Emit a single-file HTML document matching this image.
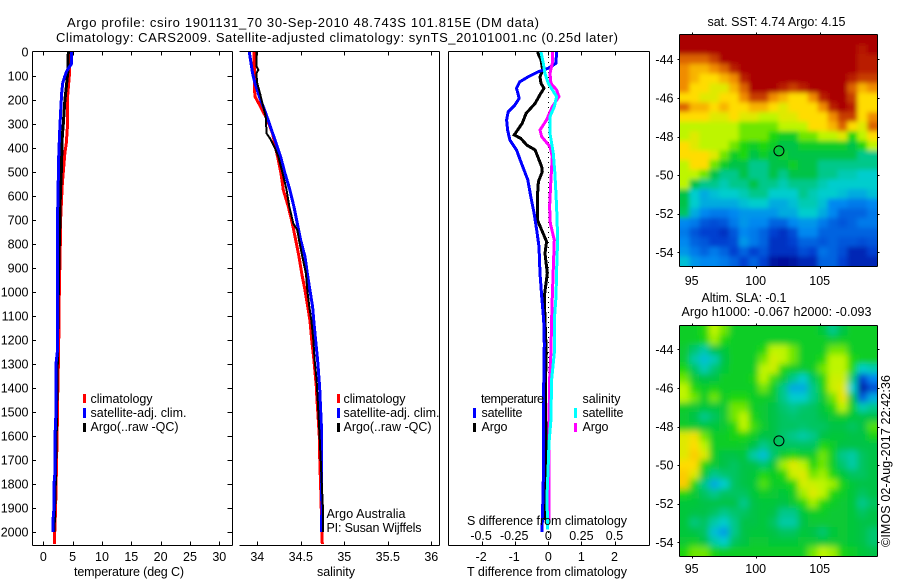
<!DOCTYPE html>
<html lang="en">
<head>
<meta charset="utf-8">
<title>Argo profile csiro 1901131_70</title>
<style>
html,body{margin:0;padding:0;background:#fff;width:900px;height:580px;overflow:hidden}
svg{display:block}
text{font-family:"Liberation Sans",sans-serif;font-size:12.5px;fill:#000;letter-spacing:0}
.ttl{font-size:13px}
.ax{stroke:#000;stroke-width:1;fill:none;shape-rendering:crispEdges}
.ln{fill:none;shape-rendering:crispEdges;stroke-linejoin:miter}
</style>
</head>
<body>
<svg id="chart" xmlns="http://www.w3.org/2000/svg" width="900" height="580" viewBox="0 0 900 580">
  <defs>
    <clipPath id="clip-sst"><rect x="680" y="35" width="197" height="231"/></clipPath>
    <clipPath id="clip-sla"><rect x="680" y="326" width="197" height="230"/></clipPath>
    <clipPath id="clip-p1"><rect x="33" y="52" width="199" height="493"/></clipPath>
    <clipPath id="clip-p2"><rect x="239" y="52" width="200" height="493"/></clipPath>
    <clipPath id="clip-p3"><rect x="449" y="52" width="200" height="493"/></clipPath>
    <filter id="blur-sst" filterUnits="userSpaceOnUse" x="640" y="0" width="260" height="300"><feGaussianBlur stdDeviation="2.4"/></filter>
    <filter id="blur-sla" filterUnits="userSpaceOnUse" x="640" y="290" width="260" height="290"><feGaussianBlur stdDeviation="3.2"/></filter>
  </defs>

  <text class="ttl" x="67" y="27" textLength="472" lengthAdjust="spacing">Argo profile: csiro 1901131_70 30-Sep-2010 48.743S 101.815E (DM data)</text>
  <text class="ttl" x="56" y="42" textLength="562" lengthAdjust="spacing">Climatology: CARS2009. Satellite-adjusted climatology: synTS_20101001.nc (0.25d later)</text>

  <g id="heat-sst" clip-path="url(#clip-sst)"><g id="heat-sst-cells" filter="url(#blur-sst)"></g></g>
  <g id="heat-sla" clip-path="url(#clip-sla)"><g id="heat-sla-cells" filter="url(#blur-sla)"></g></g>

  <g id="lines-p1" clip-path="url(#clip-p1)"></g>
  <g id="lines-p2" clip-path="url(#clip-p2)"></g>
  <g id="lines-p3" clip-path="url(#clip-p3)"></g>
  <g id="axes"></g>

  <text x="74" y="576" textLength="110" lengthAdjust="spacing">temperature (deg C)</text>
  <text x="317" y="576" textLength="38" lengthAdjust="spacing">salinity</text>
  <text x="467" y="576" textLength="160" lengthAdjust="spacing">T difference from climatology</text>
  <text x="467" y="525" textLength="160" lengthAdjust="spacing">S difference from climatology</text>

  <g>
    <rect x="83" y="394" width="3" height="9" fill="#f00"/>
    <rect x="83" y="408" width="3" height="10" fill="#00f"/>
    <rect x="83" y="423" width="3" height="9" fill="#000"/>
    <text x="90.5" y="403" textLength="62" lengthAdjust="spacing">climatology</text>
    <text x="90.5" y="417" textLength="96" lengthAdjust="spacing">satellite-adj. clim.</text>
    <text x="90.5" y="431" textLength="88" lengthAdjust="spacing">Argo(..raw -QC)</text>
  </g>
  <g>
    <rect x="337" y="394" width="3" height="9" fill="#f00"/>
    <rect x="337" y="408" width="3" height="10" fill="#00f"/>
    <rect x="337" y="423" width="3" height="9" fill="#000"/>
    <text x="343.5" y="403" textLength="62" lengthAdjust="spacing">climatology</text>
    <text x="343.5" y="417" textLength="96" lengthAdjust="spacing">satellite-adj. clim.</text>
    <text x="343.5" y="431" textLength="88" lengthAdjust="spacing">Argo(..raw -QC)</text>
  </g>
  <text x="326.5" y="518" textLength="79" lengthAdjust="spacing">Argo Australia</text>
  <text x="326.5" y="532" textLength="95" lengthAdjust="spacing">PI: Susan Wijffels</text>

  <g>
    <text x="481" y="403" textLength="63" lengthAdjust="spacing">temperature</text>
    <text x="481.5" y="417" textLength="41" lengthAdjust="spacing">satellite</text>
    <text x="481.5" y="431" textLength="26" lengthAdjust="spacing">Argo</text>
    <rect x="473" y="408" width="3" height="10" fill="#00f"/>
    <rect x="473" y="423" width="3" height="9" fill="#000"/>
    <text x="582.5" y="403" textLength="38" lengthAdjust="spacing">salinity</text>
    <text x="582.5" y="417" textLength="41" lengthAdjust="spacing">satellite</text>
    <text x="582.5" y="431" textLength="26" lengthAdjust="spacing">Argo</text>
    <rect x="574" y="408" width="3" height="10" fill="#0ff"/>
    <rect x="574" y="423" width="3" height="9" fill="#f0f"/>
  </g>

  <text x="707.5" y="26" textLength="138" lengthAdjust="spacing">sat. SST: 4.74 Argo: 4.15</text>
  <text x="701.5" y="302" textLength="85" lengthAdjust="spacing">Altim. SLA: -0.1</text>
  <text x="681.5" y="316" textLength="190" lengthAdjust="spacing">Argo h1000: -0.067 h2000: -0.093</text>
  <text transform="translate(890,547) rotate(-90)" textLength="172" lengthAdjust="spacing">©IMOS 02-Aug-2017 22:42:36</text>
</svg>

<script>
// ---- depth axis ----
const depthTicks = [0,100,200,300,400,500,600,700,800,900,1000,1100,1200,1300,1400,1500,1600,1700,1800,1900,2000];

// ---- temperature panel (deg C) ----
const tempTicks = [0,5,10,15,20,25,30];
const climTempDepth = [0,50,100,150,200,300,380,420,500,550,600,700,800,1000,1250,1450,1550,1700,1900,2050];
const climTemp = [4.43,4.49,4.43,4.26,4.09,4.15,3.92,3.69,3.41,3.24,3.13,2.95,2.90,2.73,2.61,2.44,2.38,2.27,2.10,1.88];
const argoTempDepth = [0,80,130,200,300,350,500,600,700,800,1000,1200,1500,1800,2000];
const argoTemp = [4.26,4.20,3.98,3.69,3.41,3.24,3.07,2.90,2.84,2.73,2.56,2.44,2.27,2.05,1.82];
const satTempDepth = [0,50,80,100,130,170,250,340,450,600,730,1000,1250,1300,1500,1600,1750,1800,1900,1950,2000];
const satTemp = [4.83,4.77,3.98,3.69,3.30,3.13,2.95,2.78,2.61,2.50,2.39,2.39,2.39,2.16,2.16,1.99,1.99,1.82,1.82,1.65,1.65];

// ---- salinity panel ----
const salTicks = [34,34.5,35,35.5,36];
const salTickLabels = ['34','34.5','35','35.5','36'];
const climSalDepth = [0,61,144,186,228,283,339,394,450,506,575,644,714,783,853,922,992,1061,1117,1200,1283,1394,1450,1533,1600,1725,1800,2000,2050];
const climSal = [33.962,33.966,33.966,33.973,34.038,34.115,34.176,34.207,34.241,34.272,34.299,34.356,34.402,34.441,34.479,34.510,34.548,34.579,34.605,34.625,34.651,34.678,34.686,34.701,34.713,34.720,34.728,34.743,34.747];
const argoSalDepth = [0,61,75,89,131,172,228,269,339,360,394,436,506,575,644,714,742,783,853,922,992,1061,1117,1200,1283,1367,1464,1600,1908,2000];
const argoSal = [33.989,33.992,34.011,33.989,34.0,34.031,34.069,34.096,34.107,34.146,34.195,34.241,34.291,34.337,34.368,34.414,34.460,34.479,34.517,34.559,34.575,34.598,34.621,34.644,34.659,34.682,34.697,34.716,34.755,34.755];
const satSalDepth = [0,89,131,186,242,297,367,436,506,575,644,714,783,853,922,992,1061,1117,1200,1283,1394,1553,1750,1908,2000];
const satSal = [33.908,33.946,33.973,34.023,34.084,34.138,34.203,34.268,34.318,34.375,34.421,34.460,34.498,34.548,34.575,34.605,34.636,34.648,34.670,34.693,34.716,34.736,34.736,34.743,34.736];

// ---- difference panel ----
const diffTTicks = [-2,-1,0,1,2];
const diffSTicks = [-0.5,-0.25,0,0.25,0.5];
const diffSTickLabels = ['-0.5','-0.25','0','0.25','0.5'];
const satDiffTDepth = [0,47,68,82,103,124,151,193,221,249,283,325,367,408,464,533,603,672,742,811,922,1019,1117,1217,1394,1616,1783,1894,2000];
const satDiffT = [0.25,0.23,0,-0.30,-0.60,-0.86,-0.96,-0.88,-1.01,-1.21,-1.26,-1.23,-1.16,-0.96,-0.81,-0.62,-0.53,-0.43,-0.35,-0.28,-0.25,-0.20,-0.14,-0.12,-0.14,-0.14,-0.15,-0.17,-0.19];
const argoDiffTDepth = [0,33,75,103,131,151,178,214,256,297,346,360,388,408,478,499,540,603,700,742,790,839,922,1019,1117,1255,1394,1616,1783,1950];
const argoDiffT = [-0.33,-0.22,-0.17,-0.25,-0.22,-0.13,-0.25,-0.40,-0.67,-0.79,-1.03,-0.83,-0.65,-0.40,-0.20,-0.18,-0.30,-0.33,-0.33,-0.20,-0.05,-0.10,-0.03,-0.12,-0.10,-0.06,-0.09,-0.07,-0.07,-0.11];
const satDiffSDepth = [0,47,89,131,186,228,269,339,422,506,644,783,867,1019,1117,1255,1366,1533,1630,1714,1852,1990];
const satDiffS = [-0.055,-0.038,-0.025,0,0.063,0.045,0.013,0.013,0.038,0.050,0.063,0.071,0.065,0.058,0.045,0.045,0.025,0.020,0.005,0,-0.010,-0.005];
const argoDiffSDepth = [0,47,89,131,158,186,228,283,325,353,394,436,533,644,714,783,867,1019,1117,1255,1366,1533,1852,1950];
const argoDiffS = [0.030,0.030,0.013,0.020,0.063,0.081,0.030,-0.013,-0.063,-0.050,0.013,0.030,0.020,0.010,0.015,0.045,0.040,0.030,0.025,0.020,0.010,0.005,0.005,0.005];

// ---- map panels ----
const lonTicks = [95,100,105];
const latTicks = [-44,-46,-48,-50,-52,-54];
const profileLon = 101.815;
const profileLat = -48.743;

// colour level per coarse map cell (0 = deep blue ... 10 = dark red)
const sstGrid = [
[10,10,10,10,10,10,10,10,10,10,10,10,10,10,10,10,10,10,10,10],
[10,10,10,10,10,10,10,10,10,10,10,10,10,10,10,10,10,10,9.6,10],
[8.5,8.5,8.5,9,10,10,10,10,10,10,10,10,10,10,10,10,10,10,9.5,9.5],
[8,7.5,7.5,8,8.5,9.5,10,10,10,10,10,10,10,10,10,10,10,10,9.5,9.5],
[8,7.5,7,7,7.5,8,9.5,10,10,10,10,10,10,10,10,10,10,9.5,9,9],
[8,7,7,6.5,6.5,7.5,8.5,10,10,10,9.5,9,9.5,10,10,10,10,8.5,7.5,8],
[7,7,6.5,6.5,7,7,8,9,9,8,7.5,7,7,8,9.5,10,10,9,7,7],
[8.5,7.5,7.5,7,7.5,7,7,7.5,7.5,7,6.5,7,7,7,8,9.5,10,9.5,7,7],
[7,7,7,6.5,6.5,7,6.5,6.5,6,6,6.5,6.5,7,7,7,8,9,9,7,8],
[6,6,6,6,6,6,5.5,5.5,5.5,5.5,6,6,6,7,7,7.5,8.5,7,6.5,8.5],
[6,6.5,6,6,6,6,5.5,5.5,5.5,5,4.5,4.5,5.5,5.5,6,6,6.5,5,6,7],
[7,6.5,6,6,6,5.5,5,4.5,5,4.5,4,4,4.5,4.5,4.5,4.5,4.5,4,5,6],
[7,7,7,6.5,5.5,4.5,5,4,4.5,4,4.3,4,4,4,4,4,4,4,3.5,3.5],
[6,7,7,5.5,4.5,4,4,3.5,3.5,4,4,4.5,4,4,3.5,3.5,3.5,3.5,3.5,3.5],
[6,6,5.5,4,3.5,3.5,4,3.5,3.5,4,3.5,4,4,4,3.5,3.5,3.2,3.2,3,3],
[6,4,3.5,3.5,3.2,3.5,3.5,4,3.5,3.5,3.2,3.5,3.5,3.5,3.2,3,3,3,3,3],
[4,3,2.5,2.8,3,3,3.2,3.5,3.5,3,3,3,3.5,3.2,3,3,2.8,2.5,2.5,2.8],
[4,3,2.5,2.5,2.5,2.5,2.8,3,3,2.5,2.5,2.8,3.2,3.2,2.8,2,2,1.8,1.8,2],
[3.8,2.5,2,1.8,1.8,2,2.2,2.2,2.2,2.2,2.5,2.5,3,3,2.5,2,1.5,1.5,1.5,1.8],
[2,1.8,1.3,1.2,1.3,1.8,2.2,2,2,1.5,1.5,2,2.2,2.2,1.8,1.5,1.3,1.5,1.8,1.8],
[1.8,1.3,1,1,0.8,1.3,2,1.8,1.5,1,0.8,1.2,2,2,1.5,1.5,1.5,1.5,1.5,1.5],
[2,1.5,1.3,1,1,1.2,2.2,1.8,1.5,0.8,0.8,1,1.5,1.5,1.3,1.5,1.3,1.3,1.2,1.3],
[2.2,1.8,1.5,1.8,1.5,1,1.5,1,1.3,0.8,0.8,0.8,1.2,1,1.7,1.5,1.2,0.6,0.6,1],
[2.8,2.2,2,2,1.8,1.5,1,1.5,1,0.3,0.2,0.3,0.6,0.6,1.5,1.5,1,0.6,0.6,0.6]
];
const slaGrid = [
[4.5,4.5,5,6,5.5,4.5,4.5,4.5,4.5,4.5,4.5,4.5,4.5,4.5,4.2,3.5,4,4.5,4.5,4.5],
[4.5,4.5,4.8,5.8,5,4.5,4.5,4.5,4.5,4.5,4.5,4.5,4.5,4.5,4.5,4.3,4.5,4.5,4.5,4.5],
[4.3,3.7,3.3,4,4.2,4.5,4.5,4.5,5,6,6,5.5,4.5,4.5,4.5,5.5,5.5,4.5,4.5,4.5],
[4.3,3.3,2.8,3.2,4,4.5,4.5,4.5,5.5,6.3,6,5.5,4.5,4.5,5,6,6,5,4.5,4.5],
[5,3.8,3.2,3.7,4.2,4.5,4.5,4.5,6,6.2,5,4.5,4.3,4.5,5.5,6,6,5,3,3.2],
[5.5,4.3,4,4,4.5,4.5,4.5,4.8,6,5.2,4.3,3.5,3,3.8,5,6.2,6.2,3.6,1,2],
[6,5,4.5,4.8,4.5,4.5,4.5,4.5,5.5,4.5,3.5,2.5,2.5,3.5,4.8,6.2,6.5,3,0.4,1.2],
[6,5.5,4.5,5.5,4.5,5,5,4.5,4.5,4.3,3.5,3,3,3.5,4.3,5.5,6.7,4,1.4,2.5],
[4.5,4.3,4.2,4.2,4.3,5.5,5.5,4.5,4.3,4,3.7,3.5,3.7,3.8,4.2,5,6,4.5,3.2,3.5],
[4.3,4,3.5,3.8,4.3,5.5,6,4.8,4.3,4,3.8,3.7,3.8,3.8,4,4.3,4.5,4.2,4,4],
[4.5,4.3,4.2,4.2,4.3,5,6,5.2,4.4,4,3.8,3.8,3.7,3.8,3.8,4,4,3.8,4,5.3],
[6.5,6.8,5.5,4.5,4.5,4.8,5,4.5,4,4,3.7,3.5,3.3,3.5,4,4.2,4.2,4,4,4.8],
[6.5,7,6,4.5,4.5,4.5,4.4,4,3.5,3.8,3.8,3.8,3.8,3.8,5,4.5,4,4,4,4],
[6.5,7.2,6.5,4.5,4,4,4.2,3.3,2.8,3.7,4.5,5,4.5,4.5,5.5,4.5,3.5,3.3,3.8,4],
[7,7,5,4.3,4,3.8,4,4,3.7,4.2,5.8,6.5,6,5,5.5,4.5,3.7,3.3,3.8,4],
[7.2,6.5,4.3,3.5,3.7,3.8,4,4.2,5,4.5,5,6.2,6.5,5.5,5.8,5,4.2,3.8,3.8,4],
[7.2,5,3.5,2.5,3,3.8,4,4.2,5.3,4.5,4.5,5,6.3,6.2,6,5.8,4.8,4.2,4,4],
[5,4.3,3.8,3.5,3.8,3.8,3.8,4.2,4.5,4.3,4.2,4.5,5.8,6.5,6,5,4.5,4.2,3.8,4],
[4.2,4.2,4,4,4,4,3.5,4,4.2,4.2,4,4.3,5,5.8,5,4.5,4.3,4.2,3.5,3.8],
[4.2,4,4,3.8,3.5,3.7,3.8,4,4.2,4,3.5,3.5,4.2,4.5,4.5,4.3,4.3,4.2,3.8,4],
[4.2,3.6,3.8,3.3,3,3.5,4,4,4.2,3.8,3.3,3.3,4,4.3,4.3,4.3,4.3,4.2,4,4],
[4.2,4,3.8,2.8,2.3,3.5,4,4.2,4.2,4,3.8,3.8,4.2,4,3.7,4.2,4.3,4.2,4,3.7],
[4.3,4.5,4,3.3,3,3.8,4,4.3,4.3,4.2,4.2,4.2,4.3,4.3,4.2,4.3,4.3,4.2,4,3.7],
[5,5.5,5.5,4.8,4.5,4.5,4.5,4.5,4.5,4.5,4.5,4.5,4.5,5.5,6,5.8,4.8,4.5,4.2,4]
];

const SVGNS = 'http://www.w3.org/2000/svg';
const axesLayer = document.getElementById('axes');

function yDepth(d){ return 52 + 0.24 * d; }
function xTemp(v){ return 43.3 + 5.867 * v; }
function xSal(v){ return 257.3 + 87 * (v - 34); }
function xDiffT(v){ return 548.3 + 33.1 * v; }
function xDiffS(v){ return xDiffT(v * 4); }
function xLon(v){ return 691.7 + 12.8 * (v - 95); }
function yLatSst(v){ return 59.3 + 19.3 * (-44 - v); }
function yLatSla(v){ return 349.3 + 19.3 * (-44 - v); }

function make(tag, attrs, parent){
  const el = document.createElementNS(SVGNS, tag);
  for (const k in attrs) el.setAttribute(k, attrs[k]);
  parent.appendChild(el);
  return el;
}
function seg(x1,y1,x2,y2,name){
  const el = make('line',{x1:x1,y1:y1,x2:x2,y2:y2,'class':'ax'},axesLayer);
  
  
  return el;
}
function label(str,x,y,anchor,name){
  const el = make('text',{x:x,y:y,'text-anchor':anchor},axesLayer);
  el.textContent = str;
  
  
  return el;
}
function profile(layerId, xFn, depths, values, color, width, name){
  const pts = depths.map(function(d,i){ return xFn(values[i]).toFixed(1) + ',' + yDepth(d).toFixed(1); }).join(' ');
  const el = make('polyline',{points:pts,stroke:color,'stroke-width':width,'class':'ln'},document.getElementById(layerId));
  
  
}
function box(l,t,r,b,drawLeft,name){
  seg(l,t,r,t,name+'-top-edge');
  seg(l,b,r,b,name+'-bottom-edge');
  seg(r,t,r,b,name+'-right-edge');
  if (drawLeft) seg(l,t,l,b,name+'-left-edge');
}

// panel frames
box(32.5,51.5,232.5,545.5,true,'temperature-panel');
box(239.5,51.5,439.5,545.5,false,'salinity-panel');
box(448.5,51.5,649.5,545.5,true,'difference-panel');

// depth ticks
depthTicks.forEach(function(d){
  const y = Math.round(yDepth(d)) + 0.5;
  label(String(d), 28.5, yDepth(d) + 4.5, 'end', 'depth-tick-label');
  if (d > 0) {
    seg(32.5,y,36,y,'depth-tick-left');
    seg(227.5,y,232.5,y,'depth-tick-right');
  }
});

// temperature ticks
tempTicks.forEach(function(v){
  const x = Math.round(xTemp(v)) + 0.5;
  seg(x,51.5,x,55.5,'temperature-tick-top');
  seg(x,541.5,x,545.5,'temperature-tick-bottom');
  label(String(v), xTemp(v), 561, 'middle', 'temperature-tick-label');
});

// salinity ticks
salTicks.forEach(function(v,i){
  const x = Math.round(xSal(v)) + 0.5;
  seg(x,51.5,x,55.5,'salinity-tick-top');
  seg(x,541.5,x,545.5,'salinity-tick-bottom');
  label(salTickLabels[i], xSal(v), 561, 'middle', 'salinity-tick-label');
});

// difference ticks
diffTTicks.forEach(function(v){
  const x = Math.round(xDiffT(v)) + 0.5;
  seg(x,51.5,x,55.5,'difference-tick-top');
  seg(x,541.5,x,545.5,'difference-tick-bottom');
  label(String(v), xDiffT(v) - (v < 0 ? 1 : 0), 561, 'middle', 't-difference-tick-label');
});
diffSTicks.forEach(function(v,i){
  label(diffSTickLabels[i], xDiffS(v) - (v < 0 ? 1 : 0), 540, 'middle', 's-difference-tick-label');
});

// zero reference line
const zeroLine = make('line',{x1:548.5,y1:52,x2:548.5,y2:545,stroke:'#000','stroke-width':1,'stroke-dasharray':'1 4','shape-rendering':'crispEdges'},document.getElementById('lines-p3'));



// profile lines
profile('lines-p1', xTemp, climTempDepth, climTemp, '#f00', 3, 'climatology-temperature-line');
profile('lines-p1', xTemp, argoTempDepth, argoTemp, '#000', 3, 'argo-temperature-line');
profile('lines-p1', xTemp, satTempDepth, satTemp, '#00f', 3, 'satellite-temperature-line');

profile('lines-p2', xSal, climSalDepth, climSal, '#f00', 3, 'climatology-salinity-line');
profile('lines-p2', xSal, satSalDepth, satSal, '#00f', 3, 'satellite-salinity-line');
profile('lines-p2', xSal, argoSalDepth, argoSal, '#000', 2, 'argo-salinity-line');

profile('lines-p3', xDiffT, argoDiffTDepth, argoDiffT, '#000', 3, 'argo-t-difference-line');
profile('lines-p3', xDiffT, satDiffTDepth, satDiffT, '#00f', 3, 'satellite-t-difference-line');
profile('lines-p3', xDiffS, argoDiffSDepth, argoDiffS, '#f0f', 3, 'argo-s-difference-line');
profile('lines-p3', xDiffS, satDiffSDepth, satDiffS, '#0ff', 3, 'satellite-s-difference-line');

// heatmaps
const palette = [[0,0,140],[0,64,208],[0,136,240],[0,205,205],[0,195,70],[30,215,10],[190,245,0],[255,220,0],[240,140,0],[200,60,0],[170,0,0]];
function levelColor(v){
  const c = Math.max(0, Math.min(10, v));
  const i = Math.min(9, Math.floor(c));
  const f = c - i;
  const a = palette[i];
  const b = palette[i+1];
  return 'rgb(' + Math.round(a[0]+(b[0]-a[0])*f) + ',' + Math.round(a[1]+(b[1]-a[1])*f) + ',' + Math.round(a[2]+(b[2]-a[2])*f) + ')';
}
function drawHeat(grid, layerId, left, top, width, height, name){
  const layer = document.getElementById(layerId);
  const rows = grid.length;
  const cols = grid[0].length;
  const cw = width / cols;
  const ch = height / rows;
  for (let r = -3; r < rows + 3; r++) {
    for (let c = -3; c < cols + 3; c++) {
      const rr = Math.max(0, Math.min(rows - 1, r));
      const cc = Math.max(0, Math.min(cols - 1, c));
      const cell = make('rect',{x:left + c*cw,y:top + r*ch,width:cw + 0.6,height:ch + 0.6,fill:levelColor(grid[rr][cc])},layer);
      
      
    }
  }
}
drawHeat(sstGrid,'heat-sst-cells',679.5,35,197.5,231,'sst-cell');
drawHeat(slaGrid,'heat-sla-cells',679.5,325.7,197.5,230.3,'sla-cell');

// map frames and ticks
function mapAxes(top, bottom, yFn, labelY, name){
  box(679.5,top,877.5,bottom,true,name);
  lonTicks.forEach(function(v){
    const x = Math.round(xLon(v)) + 0.5;
    seg(x,top-2,x,top,name+'-lon-tick-top');
    seg(x,bottom,x,bottom+2,name+'-lon-tick-bottom');
    label(String(v), xLon(v), labelY, 'middle', name+'-lon-label');
  });
  latTicks.forEach(function(v){
    const y = Math.round(yFn(v)) + 0.5;
    seg(677.5,y,679.5,y,name+'-lat-tick-left');
    seg(877.5,y,879.5,y,name+'-lat-tick-right');
    label(String(v), 673.5, yFn(v) + 4.5, 'end', name+'-lat-label');
  });
  const dot = make('circle',{cx:xLon(profileLon),cy:yFn(profileLat),r:5,fill:'none',stroke:'#000','stroke-width':1},axesLayer);
  
  
}
mapAxes(34.5,266.5,yLatSst,285,'sst-map');
mapAxes(325.5,556.5,yLatSla,573,'sla-map');
</script>
</body>
</html>
